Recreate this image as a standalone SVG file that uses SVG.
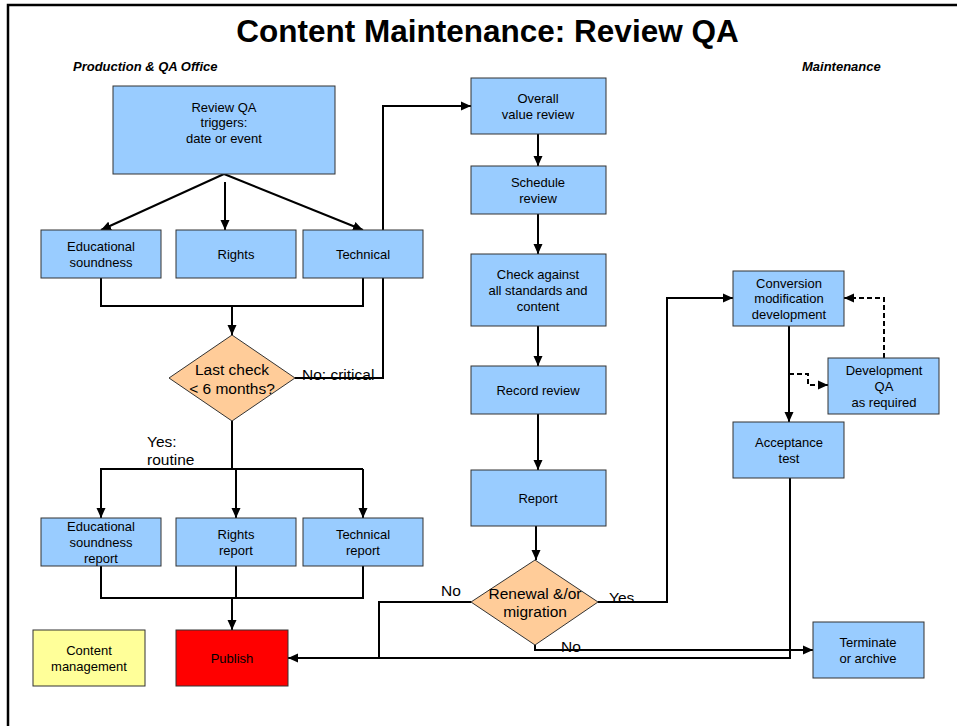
<svg xmlns="http://www.w3.org/2000/svg" width="957" height="726" viewBox="0 0 957 726">
<style>
text{font-family:"Liberation Sans",Arial,sans-serif;fill:#000}
.bx{font-size:13px;text-anchor:middle}
.lb{font-size:15.5px}
.dt{font-size:15.5px;text-anchor:middle}
.n{fill:#99CCFF;stroke:#333;stroke-width:1}
.d{fill:#FFCC99;stroke:#333;stroke-width:1}
.c{fill:none;stroke:#000;stroke-width:2}
.a{marker-end:url(#ah)}
.ds{stroke-dasharray:5,3}
</style>
<defs>
<marker id="ah" markerUnits="userSpaceOnUse" markerWidth="10" markerHeight="10" viewBox="0 0 10 10" refX="10" refY="5" orient="auto">
<path d="M0,0.5 L10,5 L0,9.5 Z" fill="#000"/>
</marker>
</defs>
<rect width="957" height="726" fill="#fff"/>
<path d="M8,726 V5 H957" fill="none" stroke="#000" stroke-width="2.5"/>
<text x="487.5" y="42" style="font-size:31.5px;font-weight:bold;text-anchor:middle">Content Maintenance: Review QA</text>
<text x="73" y="71" style="font-size:13px;font-weight:bold;font-style:italic">Production &amp; QA Office</text>
<text x="802" y="71" style="font-size:13px;font-weight:bold;font-style:italic">Maintenance</text>

<g id="connectors">
<path class="c a" d="M224,174 L101,230"/>
<path class="c a" d="M225,182 V230"/>
<path class="c a" d="M224,174 L363,230"/>
<path class="c" d="M101,278 V306 H363 V278"/>
<path class="c a" d="M232,306 V335"/>
<path class="c a" d="M295,378 H383 V106 H471"/>
<path class="c" d="M232,421 V469"/>
<path class="c" d="M101,518 V469 H363"/>
<path class="c a" d="M101,469 V518"/>
<path class="c a" d="M236,469 V518"/>
<path class="c a" d="M363,469 V518"/>
<path class="c" d="M101,566 V598 H363 V566"/>
<path class="c" d="M236,566 V598"/>
<path class="c a" d="M232,598 V630"/>
<path class="c a" d="M538,134 V166"/>
<path class="c a" d="M538,214 V254"/>
<path class="c a" d="M538,326 V366"/>
<path class="c a" d="M538,414 V470"/>
<path class="c a" d="M536,526 V560"/>
<path class="c a" d="M598,602 H667 V298 H733"/>
<path class="c" d="M471,602 H379 V658"/>
<path class="c a" d="M790,478 V658 H288"/>
<path class="c a" d="M535,645 V650 H813"/>
<path class="c a" d="M789,326 V422"/>
<path class="c a ds" d="M789,374 H808 V385 H828"/>
<path class="c a ds" d="M884,358 V298 H844"/>
</g>

<g id="review-qa-triggers">
<rect class="n" x="113" y="86" width="222" height="88"/>
<text class="bx" x="224" y="112">Review QA</text>
<text class="bx" x="224" y="127">triggers:</text>
<text class="bx" x="224" y="143">date or event</text>
</g>
<g id="educational-soundness">
<rect class="n" x="41" y="230" width="120" height="48"/>
<text class="bx" x="101" y="251">Educational</text>
<text class="bx" x="101" y="267">soundness</text>
</g>
<g id="rights">
<rect class="n" x="176" y="230" width="120" height="48"/>
<text class="bx" x="236" y="259">Rights</text>
</g>
<g id="technical">
<rect class="n" x="303" y="230" width="120" height="48"/>
<text class="bx" x="363" y="259">Technical</text>
</g>
<g id="last-check">
<polygon class="d" points="232,335 295,378 232,421 169,378"/>
<text class="dt" x="232" y="375">Last check</text>
<text class="dt" x="232" y="394">&lt; 6 months?</text>
</g>
<text class="lb" x="302" y="380">No: critical</text>
<text class="lb" x="147" y="447">Yes:</text>
<text class="lb" x="147" y="465">routine</text>
<g id="educational-soundness-report">
<rect class="n" x="41" y="518" width="120" height="48"/>
<text class="bx" x="101" y="531">Educational</text>
<text class="bx" x="101" y="547">soundness</text>
<text class="bx" x="101" y="563">report</text>
</g>
<g id="rights-report">
<rect class="n" x="176" y="518" width="120" height="48"/>
<text class="bx" x="236" y="539">Rights</text>
<text class="bx" x="236" y="555">report</text>
</g>
<g id="technical-report">
<rect class="n" x="303" y="518" width="120" height="48"/>
<text class="bx" x="363" y="539">Technical</text>
<text class="bx" x="363" y="555">report</text>
</g>
<g id="content-management">
<rect x="33" y="630" width="112" height="56" fill="#FFFF99" stroke="#333" stroke-width="1"/>
<text class="bx" x="89" y="655">Content</text>
<text class="bx" x="89" y="671">management</text>
</g>
<g id="publish">
<rect x="176" y="630" width="112" height="56" fill="#FF0000" stroke="#333" stroke-width="1"/>
<text class="bx" x="232" y="663">Publish</text>
</g>
<g id="overall-value-review">
<rect class="n" x="471" y="78" width="135" height="56"/>
<text class="bx" x="538" y="103">Overall</text>
<text class="bx" x="538" y="119">value review</text>
</g>
<g id="schedule-review">
<rect class="n" x="471" y="166" width="135" height="48"/>
<text class="bx" x="538" y="187">Schedule</text>
<text class="bx" x="538" y="203">review</text>
</g>
<g id="check-against">
<rect class="n" x="471" y="254" width="135" height="72"/>
<text class="bx" x="538" y="279">Check against</text>
<text class="bx" x="538" y="295">all standards and</text>
<text class="bx" x="538" y="311">content</text>
</g>
<g id="record-review">
<rect class="n" x="471" y="366" width="135" height="48"/>
<text class="bx" x="538" y="395">Record review</text>
</g>
<g id="report">
<rect class="n" x="471" y="470" width="135" height="56"/>
<text class="bx" x="538" y="503">Report</text>
</g>
<g id="renewal-migration">
<polygon class="d" points="535,560 598,602 535,645 471,602"/>
<text class="dt" x="535" y="599">Renewal &amp;/or</text>
<text class="dt" x="535" y="617">migration</text>
</g>
<text class="lb" x="441" y="596">No</text>
<text class="lb" x="609" y="603">Yes</text>
<text class="lb" x="561" y="652">No</text>
<g id="conversion">
<rect class="n" x="733" y="271" width="111" height="55"/>
<text class="bx" x="789" y="288">Conversion</text>
<text class="bx" x="789" y="303">modification</text>
<text class="bx" x="789" y="319">development</text>
</g>
<g id="development-qa">
<rect class="n" x="828" y="358" width="111" height="56"/>
<text class="bx" x="884" y="375">Development</text>
<text class="bx" x="884" y="391">QA</text>
<text class="bx" x="884" y="407">as required</text>
</g>
<g id="acceptance-test">
<rect class="n" x="733" y="422" width="111" height="56"/>
<text class="bx" x="789" y="447">Acceptance</text>
<text class="bx" x="789" y="463">test</text>
</g>
<g id="terminate-archive">
<rect class="n" x="813" y="622" width="111" height="56"/>
<text class="bx" x="868" y="647">Terminate</text>
<text class="bx" x="868" y="663">or archive</text>
</g>
</svg>
